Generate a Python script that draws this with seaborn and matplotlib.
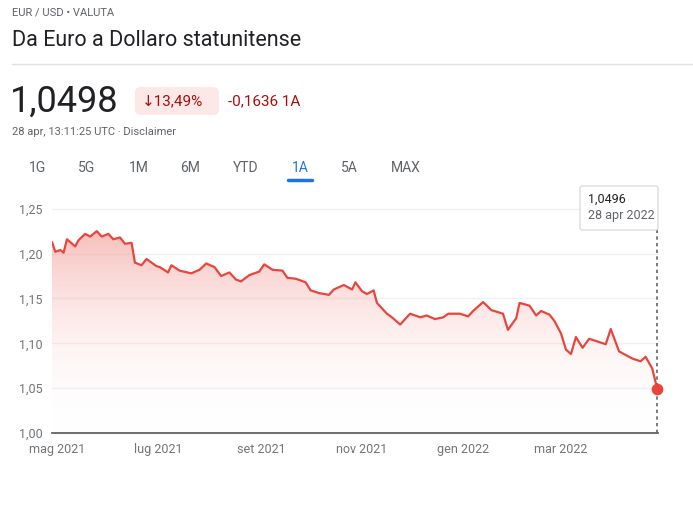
import matplotlib
matplotlib.use("Agg")
import matplotlib.pyplot as plt
import matplotlib.dates as mdates
import seaborn as sns
import numpy as np
import pandas as pd
from matplotlib.patches import FancyBboxPatch
from matplotlib.colors import LinearSegmentedColormap

sns.set_theme(style="white")
plt.rcParams['font.family'] = ['Roboto', 'DejaVu Sans']

dates = ["2021-04-28","2021-04-30","2021-05-03","2021-05-05","2021-05-07","2021-05-12","2021-05-14","2021-05-18","2021-05-21","2021-05-25","2021-05-28","2021-06-01","2021-06-04","2021-06-08","2021-06-11","2021-06-15","2021-06-17","2021-06-21","2021-06-24","2021-06-30","2021-07-02","2021-07-07","2021-07-09","2021-07-14","2021-07-21","2021-07-26","2021-07-30","2021-08-04","2021-08-08","2021-08-13","2021-08-17","2021-08-20","2021-08-25","2021-08-31","2021-09-03","2021-09-08","2021-09-14","2021-09-17","2021-09-22","2021-09-28","2021-10-01","2021-10-06","2021-10-12","2021-10-15","2021-10-21","2021-10-26","2021-10-28","2021-11-01","2021-11-04","2021-11-08","2021-11-10","2021-11-16","2021-11-19","2021-11-24","2021-11-30","2021-12-06","2021-12-10","2021-12-15","2021-12-20","2021-12-23","2021-12-30","2022-01-04","2022-01-07","2022-01-13","2022-01-18","2022-01-25","2022-01-28","2022-02-02","2022-02-04","2022-02-10","2022-02-14","2022-02-17","2022-02-22","2022-02-25","2022-03-01","2022-03-04","2022-03-07","2022-03-10","2022-03-14","2022-03-18","2022-03-23","2022-03-28","2022-03-31","2022-04-05","2022-04-08","2022-04-13","2022-04-18","2022-04-21","2022-04-25","2022-04-28"]
values = [1.213,1.202,1.204,1.201,1.216,1.208,1.215,1.222,1.219,1.225,1.219,1.222,1.216,1.218,1.211,1.212,1.190,1.187,1.194,1.186,1.185,1.179,1.187,1.181,1.178,1.182,1.189,1.185,1.175,1.179,1.171,1.169,1.176,1.180,1.188,1.182,1.181,1.173,1.172,1.168,1.159,1.156,1.154,1.160,1.165,1.160,1.168,1.158,1.155,1.159,1.145,1.133,1.129,1.121,1.133,1.129,1.131,1.127,1.129,1.133,1.133,1.130,1.136,1.146,1.137,1.133,1.115,1.128,1.145,1.142,1.131,1.136,1.132,1.125,1.111,1.093,1.088,1.107,1.095,1.105,1.102,1.099,1.116,1.091,1.088,1.083,1.080,1.085,1.072,1.0496]
tick_dates = ["2021-05-01","2021-07-01","2021-09-01","2021-11-01","2022-01-01","2022-03-01"]
tick_labels = ["mag 2021","lug 2021","set 2021","nov 2021","gen 2022","mar 2022"]
y_ticks = [1.00,1.05,1.10,1.15,1.20,1.25]

df = pd.DataFrame({"date": pd.to_datetime(dates), "value": values})
red = "#e8453c"

fig = plt.figure(figsize=(6.93, 5.08), dpi=100)
ax = fig.add_axes([52/693, 1-433/508, (658-52)/693, (433-198)/508])
sns.lineplot(data=df, x="date", y="value", ax=ax, color=red, lw=1.6)
x0, x1 = mdates.date2num(df.date.iloc[0]), mdates.date2num(df.date.iloc[-1])
ax.set_xlim(x0, x1 + 0.5)
ax.set_ylim(1.0, 1.262)
grad = np.linspace(0, 1, 256).reshape(-1, 1)
cmap = LinearSegmentedColormap.from_list("g", [(1, 1, 1, 0), (0.93, 0.45, 0.42, 0.45)])
im = ax.imshow(grad, extent=[x0, x1, 1.0, 1.225], origin="lower", aspect="auto", cmap=cmap, zorder=1)
xs = mdates.date2num(df.date)
poly = ax.fill_between(xs, values, 1.0, color="none")
im.set_clip_path(poly.get_paths()[0], transform=ax.transData)
ax.scatter([xs[-1]], [values[-1]], color=red, s=55, zorder=5, clip_on=False)
ax.plot([xs[-1], xs[-1]], [1.0, 1.262], ls=(0, (2, 2)), color="#666", lw=1.2, zorder=4, clip_on=False)

ax.set_yticks(y_ticks)
ax.set_yticklabels([f"{v:.2f}".replace(".", ",") for v in y_ticks], color="#70757a", fontsize=9)
ax.set_xticks(mdates.date2num(pd.to_datetime(tick_dates)))
ax.set_xticklabels(tick_labels, color="#70757a", fontsize=9)
ax.tick_params(axis="x", length=5, color="#555", width=1.2, pad=2)
ax.tick_params(axis="y", length=0, pad=24)
for yt in y_ticks[1:]:
    ax.axhline(yt, color="#f0f0f0", lw=1, zorder=0)
for s in ["top", "right", "left"]:
    ax.spines[s].set_visible(False)
ax.spines["bottom"].set_color("#555")
ax.spines["bottom"].set_linewidth(1.2)
ax.set_xlabel(""); ax.set_ylabel("")
for lab in ax.get_yticklabels():
    lab.set_horizontalalignment("left")

# tooltip
box = FancyBboxPatch((580/693, 1-230/508), 78/693, 44/508, boxstyle="round,pad=0,rounding_size=0.004",
                     transform=fig.transFigure, facecolor="white", edgecolor="#ddd", lw=1, zorder=10)
fig.patches.append(box)
fig.text(588/693, 1-199/508, "1,0496", fontsize=9, color="#202124", va="center", zorder=11)
fig.text(588/693, 1-215/508, "28 apr 2022", fontsize=9, color="#5f6368", va="center", zorder=11)

# header
fig.text(12/693, 1-13/508, "EUR / USD • VALUTA", fontsize=8, color="#5f6368", va="center")
fig.text(12/693, 1-41/508, "Da Euro a Dollaro statunitense", fontsize=15.5, color="#202124", va="center")
fig.add_artist(plt.Line2D([12/693, 693/693], [1-64/508, 1-64/508], color="#e0e0e0", lw=1))
fig.text(10/693, 1-102/508, "1,0498", fontsize=26, color="#202124", va="center")
pill = FancyBboxPatch((135/693, 1-115/508), 84/693, 28/508, boxstyle="round,pad=0,rounding_size=0.01",
                      transform=fig.transFigure, facecolor="#fce8e6", edgecolor="none")
fig.patches.append(pill)
fig.text(142/693, 1-101/508, "↓13,49%", fontsize=11, color="#a50e0e", va="center")
fig.text(228/693, 1-101/508, "-0,1636 1A", fontsize=11, color="#a50e0e", va="center")
fig.text(12/693, 1-132/508, "28 apr, 13:11:25 UTC · Disclaimer", fontsize=8, color="#5f6368", va="center")
tabs = [("1G", 37), ("5G", 87), ("1M", 139), ("6M", 190), ("YTD", 246), ("1A", 300), ("5A", 349), ("MAX", 406)]
for t, x in tabs:
    fig.text(x/693, 1-168/508, t, fontsize=10, color="#1a73e8" if t == "1A" else "#5f6368", ha="center", va="center")
fig.add_artist(plt.Line2D([288/693, 312/693], [1-180/508, 1-180/508], color="#1a73e8", lw=2.5))

fig.savefig("out.png", dpi=100)
